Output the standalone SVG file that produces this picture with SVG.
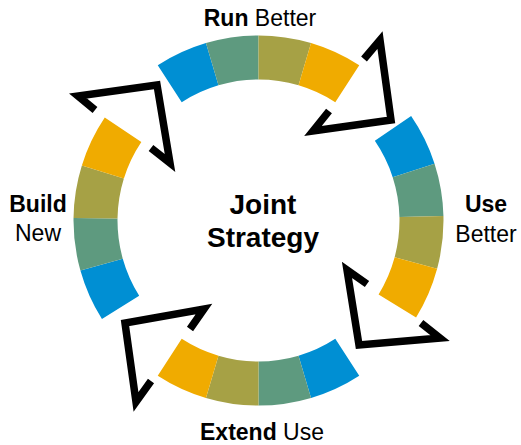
<svg xmlns="http://www.w3.org/2000/svg" width="521" height="445" viewBox="0 0 521 445">
<style>
.b{fill:#008FD3}.g{fill:#5E9A7F}.o{fill:#A6A145}.y{fill:#F0AB00}
text{font-family:"Liberation Sans",Arial,sans-serif;font-size:23px;fill:#000}
.bd{font-weight:bold}
.c{font-size:28px;font-weight:bold}
.arr{fill:none;stroke:#000;stroke-width:7.5;stroke-linejoin:miter;stroke-miterlimit:10;stroke-linecap:butt}
</style>
<rect width="521" height="445" fill="#fff"/>
<g id="run-better">
<path class="b" d="M157.75 65.34A185 185 0 0 1 205.96 43.12L218.46 85.31A141 141 0 0 0 181.71 102.24Z"/>
<path class="g" d="M205.96 43.12A185 185 0 0 1 258.5 35.5L258.5 79.5A141 141 0 0 0 218.46 85.31Z"/>
<path class="o" d="M258.5 35.5A185 185 0 0 1 311.04 43.12L298.54 85.31A141 141 0 0 0 258.5 79.5Z"/>
<path class="y" d="M311.04 43.12A185 185 0 0 1 359.25 65.34L335.29 102.24A141 141 0 0 0 298.54 85.31Z"/>
<text x="260" y="26" text-anchor="middle"><tspan class="bd">Run</tspan> Better</text>
</g>
<g id="use-better">
<path class="b" d="M411.14 115.97A185 185 0 0 1 434.55 163.63L392.68 177.16A141 141 0 0 0 374.84 140.83Z"/>
<path class="g" d="M434.55 163.63A185 185 0 0 1 443.44 215.98L399.46 217.06A141 141 0 0 0 392.68 177.16Z"/>
<path class="o" d="M443.44 215.98A185 185 0 0 1 437.12 268.69L394.64 257.23A141 141 0 0 0 399.46 217.06Z"/>
<path class="y" d="M437.12 268.69A185 185 0 0 1 416.06 317.44L378.59 294.38A141 141 0 0 0 394.64 257.23Z"/>
<text x="486" y="212" text-anchor="middle" class="bd">Use</text>
<text x="486" y="242" text-anchor="middle">Better</text>
</g>
<g id="extend-use">
<path class="b" d="M359.25 375.66A185 185 0 0 1 311.04 397.88L298.54 355.69A141 141 0 0 0 335.29 338.76Z"/>
<path class="g" d="M311.04 397.88A185 185 0 0 1 258.5 405.5L258.5 361.5A141 141 0 0 0 298.54 355.69Z"/>
<path class="o" d="M258.5 405.5A185 185 0 0 1 205.96 397.88L218.46 355.69A141 141 0 0 0 258.5 361.5Z"/>
<path class="y" d="M205.96 397.88A185 185 0 0 1 157.75 375.66L181.71 338.76A141 141 0 0 0 218.46 355.69Z"/>
<text x="262" y="440" text-anchor="middle"><tspan class="bd">Extend</tspan> Use</text>
</g>
<g id="build-new">
<path class="b" d="M101.95 319.09A185 185 0 0 1 80.40 270.56L122.76 258.65A141 141 0 0 0 139.19 295.64Z"/>
<path class="g" d="M80.40 270.56A185 185 0 0 1 73.52 217.92L117.51 218.53A141 141 0 0 0 122.76 258.65Z"/>
<path class="o" d="M73.52 217.92A185 185 0 0 1 81.86 165.48L123.87 178.57A141 141 0 0 0 117.51 218.53Z"/>
<path class="y" d="M81.86 165.48A185 185 0 0 1 104.76 117.58L141.33 142.06A141 141 0 0 0 123.87 178.57Z"/>
<text x="38" y="212" text-anchor="middle" class="bd">Build</text>
<text x="38" y="241" text-anchor="middle">New</text>
</g>
<g id="joint-strategy">
<text x="263" y="214" text-anchor="middle" class="c">Joint</text>
<text x="263" y="247" text-anchor="middle" class="c">Strategy</text>
</g>
<g id="connectors">
<polyline class="arr" points="364,59 380,40 391,120 313,131 329,111"/>
<polyline class="arr" points="367,284 347,270 359,345 440,338 421,323"/>
<polyline class="arr" points="190,329 204,309 125,323 136,402 151,381"/>
<polyline class="arr" points="95,110 78,96 157,85 170,163 151,148"/>
</g>
</svg>
